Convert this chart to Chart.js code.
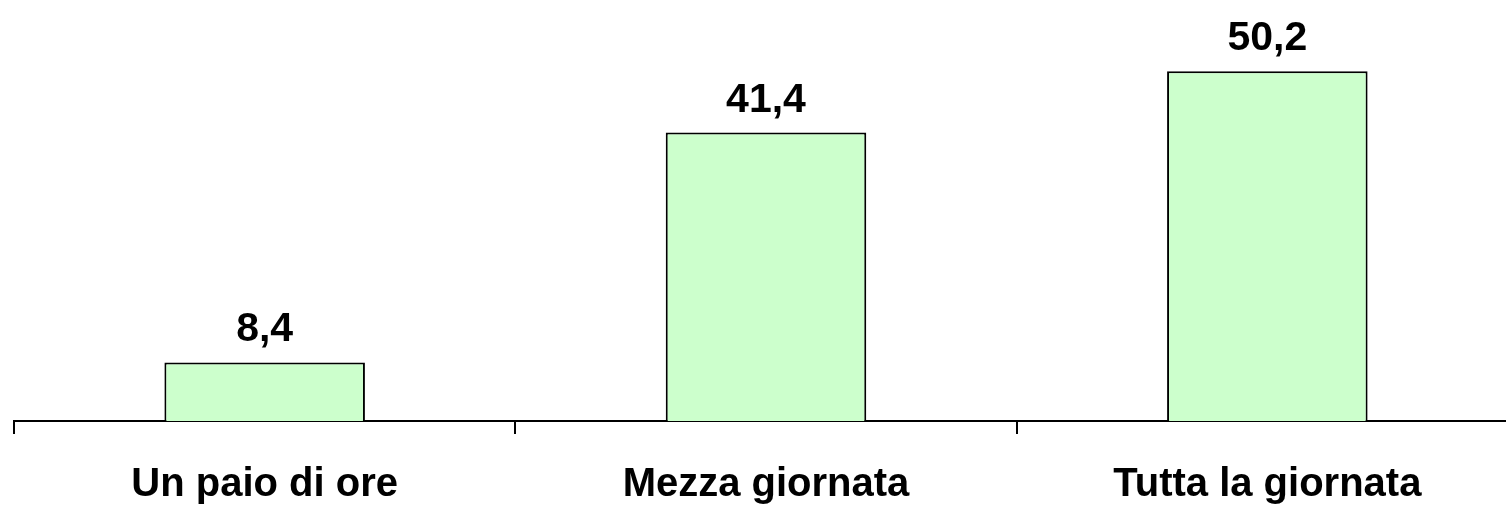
<!DOCTYPE html>
<html>
<head>
<meta charset="utf-8">
<script src="https://cdn.jsdelivr.net/npm/chart.js@4/dist/chart.umd.min.js"></script>
<style>
  html, body { margin: 0; padding: 0; background: #fff; overflow: hidden; width: 1506px; height: 505px; }
  #wrap { width: 1520px; height: 505px; position: relative; }
</style>
</head>
<body>
<div id="wrap"><canvas id="c"></canvas></div>
<script>
const categories = ["Un paio di ore", "Mezza giornata", "Tutta la giornata"];
const values = [8.4, 41.4, 50.2];
const valueLabels = ["8,4", "41,4", "50,2"];

const FONT = "'Liberation Sans', Arial, sans-serif";

const valueLabelPlugin = {
  id: 'valueLabels',
  afterDatasetsDraw(chart) {
    const ctx = chart.ctx;
    const meta = chart.getDatasetMeta(0);
    ctx.save();
    ctx.font = "bold 41px " + FONT;
    ctx.fillStyle = "#000";
    ctx.textAlign = "center";
    ctx.textBaseline = "alphabetic";
    meta.data.forEach((bar, i) => {
      ctx.fillText(valueLabels[i], bar.x, bar.y - 21);
    });
    ctx.restore();
  }
};

new Chart(document.getElementById('c'), {
  type: 'bar',
  data: {
    labels: categories,
    datasets: [{
      data: values,
      backgroundColor: '#ccffcc',
      borderColor: '#000000',
      borderWidth: 2,
      categoryPercentage: 1.0,
      barPercentage: 0.4
    }]
  },
  options: {
    responsive: true,
    maintainAspectRatio: false,
    animation: false,
    layout: { padding: { top: 3, left: 14, right: 2, bottom: 0 } },
    plugins: { legend: { display: false }, tooltip: { enabled: false } },
    scales: {
      x: {
        offset: true,
        grid: {
          display: true,
          drawOnChartArea: false,
          drawTicks: true,
          tickLength: 13,
          color: '#000',
          lineWidth: 2,
          offset: true
        },
        border: { display: true, color: '#000', width: 2 },
        ticks: {
          color: '#000',
          font: { family: FONT, size: 40, weight: 'bold' },
          padding: 27,
          maxRotation: 0,
          autoSkip: false
        },
        afterFit(scale) { scale.height = 84; }
      },
      y: {
        display: false,
        min: 0,
        max: 60
      }
    }
  },
  plugins: [valueLabelPlugin]
});
</script>
</body>
</html>
